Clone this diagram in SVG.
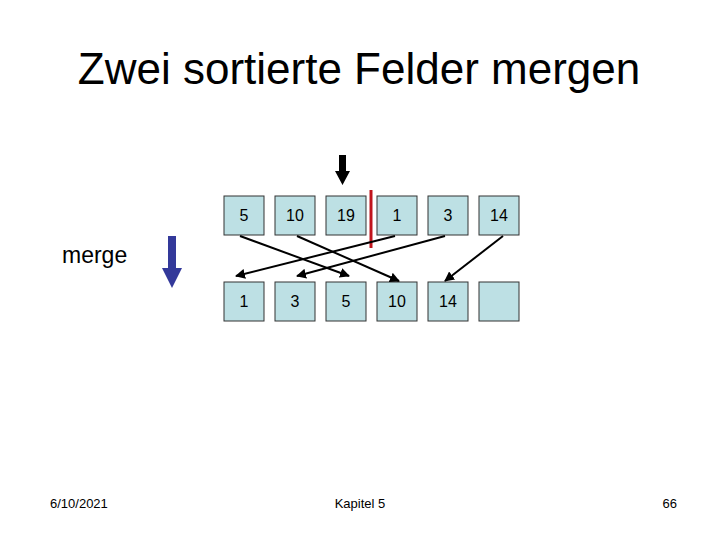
<svg xmlns="http://www.w3.org/2000/svg" width="720" height="540" viewBox="0 0 720 540">
<defs>
<style>
.box{fill:#bde0e4;stroke:#333;stroke-width:1}
.num{font-family:"Liberation Sans",Arial,sans-serif;font-size:16px;text-anchor:middle;fill:#000}
.con{stroke:#000;stroke-width:2;fill:none;marker-end:url(#ah)}
</style>
<marker id="ah" viewBox="0 0 10 10" refX="9" refY="5" markerWidth="5" markerHeight="5" orient="auto-start-reverse" markerUnits="strokeWidth">
<path d="M0,0 L10,5 L0,10 z" fill="#000"/>
</marker>
</defs>
<rect width="720" height="540" fill="#fff"/>
<text x="359" y="84" font-family="Liberation Sans,Arial,sans-serif" font-size="44" text-anchor="middle">Zwei sortierte Felder mergen</text>
<text x="62" y="263" font-family="Liberation Sans,Arial,sans-serif" font-size="23">merge</text>
<g id="top">
<g id="t1"><rect class="box" x="224" y="196" width="40" height="39"/><text class="num" x="244" y="221">5</text></g>
<g id="t2"><rect class="box" x="275" y="196" width="40" height="39"/><text class="num" x="295" y="221">10</text></g>
<g id="t3"><rect class="box" x="326" y="196" width="40" height="39"/><text class="num" x="346" y="221">19</text></g>
<g id="t4"><rect class="box" x="377" y="196" width="40" height="39"/><text class="num" x="397" y="221">1</text></g>
<g id="t5"><rect class="box" x="428" y="196" width="40" height="39"/><text class="num" x="448" y="221">3</text></g>
<g id="t6"><rect class="box" x="479" y="196" width="40" height="39"/><text class="num" x="499" y="221">14</text></g>
</g>
<g id="bottom">
<g id="b1"><rect class="box" x="224" y="282" width="40" height="39"/><text class="num" x="244" y="307">1</text></g>
<g id="b2"><rect class="box" x="275" y="282" width="40" height="39"/><text class="num" x="295" y="307">3</text></g>
<g id="b3"><rect class="box" x="326" y="282" width="40" height="39"/><text class="num" x="346" y="307">5</text></g>
<g id="b4"><rect class="box" x="377" y="282" width="40" height="39"/><text class="num" x="397" y="307">10</text></g>
<g id="b5"><rect class="box" x="428" y="282" width="40" height="39"/><text class="num" x="448" y="307">14</text></g>
<g id="b6"><rect class="box" x="479" y="282" width="40" height="39"/></g>
</g>
<g id="pointers">
<polygon points="339,155 346,155 346,171 350,171 342.5,185 335,171 339,171" fill="#000"/>
<line x1="371" y1="190" x2="371" y2="248" stroke="#c0141c" stroke-width="3"/>
<polygon points="168,236 176,236 176,268 182,268 172,288 162,268 168,268" fill="#33399a"/>
</g>
<g id="connectors">
<line class="con" x1="240" y1="236" x2="349" y2="276"/>
<line class="con" x1="297" y1="236" x2="399" y2="281"/>
<line class="con" x1="395" y1="236" x2="236" y2="276"/>
<line class="con" x1="445" y1="236" x2="297" y2="276"/>
<line class="con" x1="503" y1="236" x2="445" y2="281"/>
</g>
<g id="footer" font-family="Liberation Sans,Arial,sans-serif" font-size="13">
<text x="50" y="508">6/10/2021</text>
<text x="360" y="508" text-anchor="middle">Kapitel 5</text>
<text x="677" y="508" text-anchor="end">66</text>
</g>
</svg>
